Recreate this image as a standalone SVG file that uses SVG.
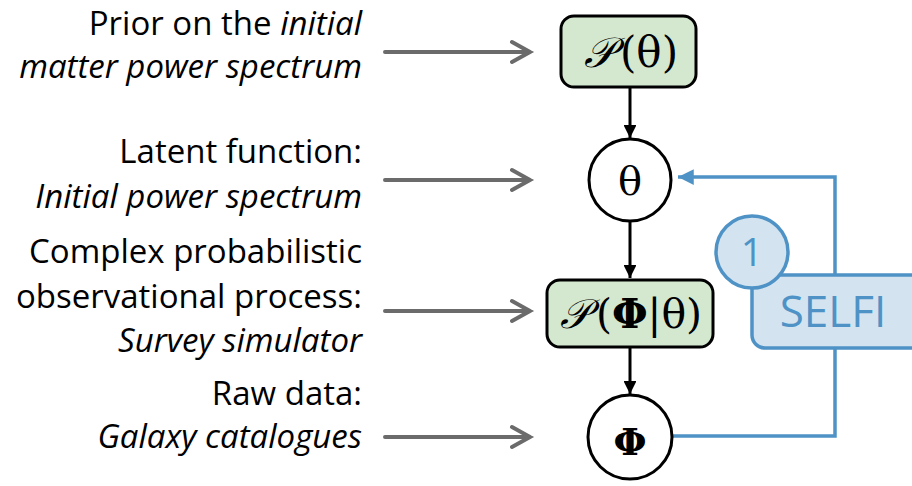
<svg xmlns="http://www.w3.org/2000/svg" width="912" height="486" viewBox="0 0 912 486">
<style>
.lbl{font-family:"Open Sans","Noto Sans",sans-serif;font-size:33px;fill:#000;text-anchor:end}
.it{font-style:italic}
.math{font-family:"DejaVu Serif","Liberation Serif",serif;fill:#000;text-anchor:middle}
.box{fill:#d4e8d0;stroke:#000;stroke-width:3}
.circ{fill:#fff;stroke:#000;stroke-width:3}
.garr{stroke:#6b6b6b;stroke-width:4;fill:none;stroke-linecap:round}
.blk{stroke:#000;stroke-width:3;fill:none}
.blue{stroke:#4f93c6;stroke-width:3.5;fill:none}
</style>
<defs>
<marker id="ah" viewBox="0 0 10 10" refX="10" refY="5" markerWidth="4.3" markerHeight="4.3" markerUnits="strokeWidth" orient="auto">
<path d="M0,0 L10,5 L0,10 z" fill="#000"/>
</marker>
<marker id="bh" viewBox="0 0 10 10" refX="10" refY="5" markerWidth="4.5" markerHeight="4.5" markerUnits="strokeWidth" orient="auto">
<path d="M0,0 L10,5 L0,10 z" fill="#4f93c6"/>
</marker>
</defs>
<g id="labels">
<text class="lbl" x="362" y="35">Prior on the <tspan class="it">initial</tspan></text>
<text class="lbl it" x="362" y="78">matter power spectrum</text>
<text class="lbl" x="362" y="163">Latent function:</text>
<text class="lbl it" x="362" y="208">Initial power spectrum</text>
<text class="lbl" x="362" y="263">Complex probabilistic</text>
<text class="lbl" x="362" y="308">observational process:</text>
<text class="lbl it" x="362" y="352">Survey simulator</text>
<text class="lbl" x="362" y="405">Raw data:</text>
<text class="lbl it" x="362" y="448">Galaxy catalogues</text>
</g>
<g id="connectors">
<g class="garr">
<path d="M385,52 H530 M512,42 L530,52 L512,62"/>
<path d="M385,180 H530 M512,170 L530,180 L512,190"/>
<path d="M385,311 H530 M512,301 L530,311 L512,321"/>
<path d="M385,437 H530 M512,427 L530,437 L512,447"/>
</g>
<line class="blk" x1="630" y1="88" x2="630" y2="138" marker-end="url(#ah)"/>
<line class="blk" x1="630" y1="221" x2="630" y2="278" marker-end="url(#ah)"/>
<line class="blk" x1="630" y1="348" x2="630" y2="394" marker-end="url(#ah)"/>
<path class="blue" d="M672,436 H835 V177 H678" marker-end="url(#bh)"/>
</g>
<g id="prior">
<rect class="box" x="561" y="16" width="135" height="71" rx="13"/>
<text class="math" x="631" y="67" font-size="42"><tspan font-style="italic">𝒫</tspan><tspan dx="6">(θ)</tspan></text>
</g>
<g id="theta">
<circle class="circ" cx="630" cy="180" r="41"/>
<text class="math" x="630" y="195" font-size="40">θ</text>
</g>
<g id="likelihood">
<rect class="box" x="547" y="280" width="166" height="67" rx="13"/>
<text class="math" x="631" y="328" font-size="41"><tspan font-style="italic">𝒫</tspan><tspan dx="6">(</tspan><tspan font-weight="bold">Φ</tspan>|θ)</text>
</g>
<g id="phi">
<circle class="circ" cx="630" cy="437" r="42"/>
<text class="math" x="630" y="455" font-size="38" font-weight="bold">Φ</text>
</g>
<g id="selfi">
<rect x="752" y="275" width="175" height="73" rx="13" fill="#d3e4f0" stroke="#4f93c6" stroke-width="3.5"/>
<text x="833" y="327" font-family="Open Sans, Noto Sans, sans-serif" font-size="44" fill="#4f93c6" text-anchor="middle">SELFI</text>
</g>
<g id="step1">
<circle cx="752" cy="252" r="36" fill="#d3e4f0" stroke="#4f93c6" stroke-width="3.5"/>
<text x="752" y="266" font-family="Open Sans, Noto Sans, sans-serif" font-size="39" fill="#4f93c6" text-anchor="middle">1</text>
</g>
</svg>
